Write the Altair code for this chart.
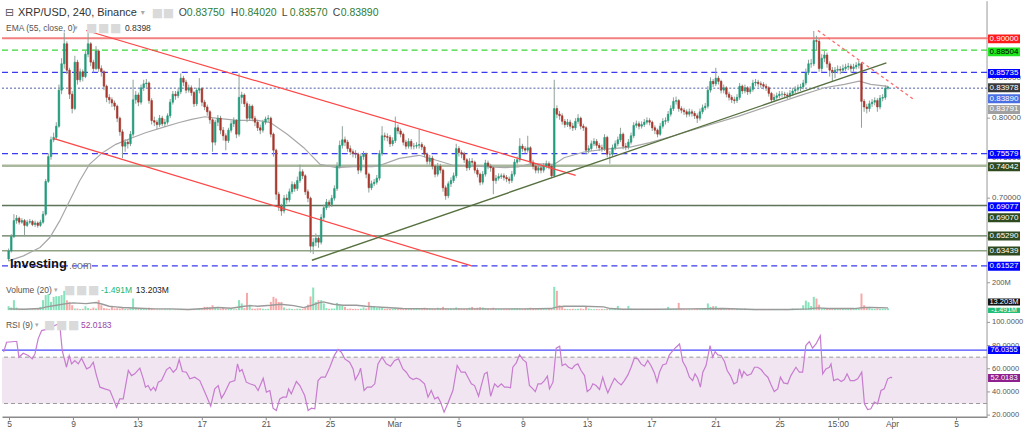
import altair as alt
import numpy as np
import pandas as pd

FONT = "Liberation Sans"
W = 986
H_PRICE, H_VOL, H_RSI = 277, 35, 104

# ---------------- XRP/USD 4h candles (prices in thousandths of USD) ----------------
first_open_k = 624
close_k = [
    634, 652, 672, 675, 670, 672, 666, 670, 671, 667,
    669, 666, 670, 680, 721, 752, 773, 776, 790, 835,
    868, 893, 860, 830, 812, 870, 848, 858, 852, 880,
    893, 870, 862, 884, 862, 858, 840, 826, 823, 819,
    815, 800, 783, 765, 770, 768, 780, 823, 829, 820,
    838, 843, 844, 822, 797, 795, 792, 800, 793, 795,
    803, 820, 830, 828, 833, 850, 845, 835, 838, 832,
    818, 835, 837, 820, 814, 808, 798, 770, 795, 800,
    785, 778, 772, 785, 793, 797, 780, 826, 829, 818,
    800, 815, 800, 795, 788, 785, 795, 799, 800, 780,
    760, 705, 690, 684, 700, 698, 708, 717, 712, 722,
    733, 728, 708, 700, 640, 645, 650, 645, 676, 688,
    695, 692, 700, 712, 740, 766, 773, 770, 762, 758,
    756, 755, 735, 752, 755, 730, 713, 718, 720, 725,
    756, 778, 777, 776, 768, 772, 788, 784, 780, 770,
    765, 771, 765, 765, 766, 767, 764, 755, 746, 750,
    740, 730, 740, 735, 713, 703, 718, 722, 728, 762,
    757, 755, 748, 738, 746, 745, 735, 730, 720, 730,
    744, 740, 738, 722, 725, 727, 728, 726, 724, 722,
    730, 745, 748, 765, 762, 760, 763, 745, 740, 735,
    738, 735, 740, 743, 740, 728, 812, 805, 803, 796,
    792, 795, 790, 788, 796, 800, 790, 788, 760, 762,
    768, 771, 766, 763, 762, 776, 755, 755, 763, 768,
    773, 780, 765, 764, 770, 778, 791, 793, 790, 792,
    795, 797, 795, 788, 785, 780, 790, 796, 797, 805,
    812, 821, 822, 812, 810, 808, 805, 808, 806, 803,
    800, 808, 813, 815, 835, 846, 843, 850, 846, 835,
    838, 830, 826, 823, 822, 826, 840, 834, 838, 833,
    836, 844, 845, 843, 842, 840, 838, 831, 823, 826,
    828, 830, 830, 829, 828, 831, 834, 836, 838, 839,
    844, 857, 868, 868, 897, 896, 862, 875, 879, 868,
    860, 858, 860, 861, 860, 862, 864, 865, 862, 864,
    866, 868, 821, 814, 812, 818, 820, 822, 814, 825,
    826, 837.5, 838.9,
]
high_k = [
    637, 655, 680, 679, 677, 675, 674, 673, 674, 673,
    672, 671, 673, 684, 724, 756, 777, 782, 795, 842,
    875, 907, 896, 863, 834, 878, 873, 862, 861, 884,
    909, 895, 873, 890, 886, 866, 860, 842, 830, 826,
    822, 817, 802, 786, 774, 774, 784, 848, 834, 832,
    842, 848, 849, 846, 825, 802, 798, 804, 803, 799,
    806, 824, 834, 834, 837, 856, 853, 848, 842, 841,
    834, 838, 850, 839, 823, 817, 810, 800, 798, 804,
    803, 789, 781, 788, 797, 801, 799, 856, 833, 831,
    821, 818, 817, 803, 798, 792, 798, 802, 804, 802,
    782, 762, 708, 693, 704, 705, 712, 721, 720, 727,
    742, 736, 730, 711, 702, 650, 656, 653, 680, 692,
    699, 698, 704, 716, 745, 772, 790, 777, 773, 766,
    761, 760, 757, 756, 759, 757, 732, 722, 724, 729,
    760, 790, 782, 781, 779, 776, 802, 792, 787, 782,
    773, 775, 774, 769, 770, 786, 770, 766, 757, 754,
    753, 742, 744, 743, 737, 716, 721, 726, 732, 768,
    765, 760, 758, 750, 750, 750, 747, 738, 732, 734,
    748, 747, 743, 740, 729, 731, 731, 731, 729, 727,
    734, 749, 752, 775, 768, 765, 778, 765, 748, 743,
    742, 741, 744, 747, 746, 742, 848, 816, 809, 806,
    799, 799, 798, 794, 800, 805, 802, 793, 790, 766,
    772, 775, 774, 769, 767, 780, 778, 759, 767, 772,
    777, 788, 782, 769, 774, 782, 795, 797, 796, 796,
    799, 801, 800, 797, 791, 787, 794, 800, 801, 809,
    816, 826, 827, 824, 815, 813, 811, 812, 811, 809,
    806, 812, 817, 819, 840, 851, 849, 863, 853, 848,
    842, 840, 833, 829, 827, 830, 844, 842, 842, 840,
    840, 848, 849, 848, 846, 845, 843, 840, 833, 830,
    832, 834, 834, 833, 832, 835, 838, 840, 842, 843,
    848, 862, 873, 874, 909, 903, 899, 880, 884, 882,
    871, 864, 864, 866, 865, 867, 868, 869, 868, 868,
    870, 872, 870, 824, 818, 822, 824, 826, 825, 829,
    830, 841, 840.2,
]
low_k = [
    621, 632, 650, 668, 667, 668, 652, 664, 668, 665,
    664, 663, 664, 668, 678, 719, 748, 770, 773, 788,
    830, 862, 855, 824, 806, 810, 842, 845, 846, 850,
    876, 865, 857, 860, 858, 852, 835, 820, 818, 814,
    810, 795, 778, 750, 758, 762, 765, 777, 818, 815,
    817, 834, 838, 818, 792, 790, 786, 789, 790, 789,
    792, 800, 817, 823, 825, 830, 840, 831, 832, 828,
    814, 815, 831, 815, 810, 803, 793, 758, 766, 790,
    780, 772, 760, 769, 782, 789, 775, 777, 818, 814,
    795, 797, 796, 790, 784, 780, 782, 792, 795, 776,
    752, 698, 684, 678, 681, 693, 695, 705, 708, 709,
    719, 724, 704, 695, 632, 630, 640, 638, 642, 672,
    685, 688, 689, 697, 709, 737, 762, 765, 758, 754,
    751, 750, 730, 732, 748, 725, 707, 710, 715, 717,
    722, 753, 772, 771, 764, 765, 769, 780, 776, 766,
    761, 762, 761, 761, 762, 762, 760, 751, 742, 742,
    736, 726, 727, 731, 708, 698, 700, 714, 719, 725,
    752, 750, 744, 734, 735, 740, 731, 726, 716, 717,
    727, 736, 733, 705, 718, 722, 724, 722, 720, 718,
    719, 727, 742, 745, 758, 756, 757, 741, 736, 731,
    731, 731, 732, 737, 736, 725, 726, 800, 798, 792,
    788, 789, 786, 784, 785, 793, 786, 784, 755, 756,
    759, 765, 762, 759, 758, 759, 751, 743, 752, 760,
    765, 770, 761, 760, 761, 767, 775, 788, 786, 787,
    789, 792, 791, 784, 780, 776, 778, 787, 792, 794,
    802, 809, 817, 808, 806, 804, 801, 802, 802, 799,
    794, 797, 805, 810, 812, 832, 839, 840, 842, 831,
    831, 826, 822, 819, 818, 819, 823, 830, 831, 829,
    830, 833, 840, 839, 838, 836, 834, 827, 819, 820,
    823, 825, 826, 825, 824, 825, 828, 831, 833, 834,
    836, 841, 854, 863, 865, 885, 858, 858, 870, 863,
    852, 846, 850, 856, 855, 857, 859, 860, 857, 858,
    861, 862, 788, 808, 806, 808, 814, 816, 808, 811,
    821, 823, 835.7,
]
# volume per candle, millions
volume_m = [
    29, 19, 73, 19, 10, 10, 8, 6, 5, 7,
    6, 9, 24, 73, 110, 117, 60, 97, 102, 102,
    110, 141, 73, 60, 36, 12, 12, 8, 10, 29,
    15, 10, 19, 12, 73, 36, 15, 12, 10, 24,
    12, 14, 12, 20, 10, 8, 14, 85, 19, 12,
    10, 9, 8, 18, 10, 6, 5, 6, 5, 7,
    6, 8, 5, 6, 7, 9, 7, 6, 5, 6,
    6, 7, 8, 6, 24, 24, 20, 36, 15, 12,
    10, 18, 10, 8, 8, 7, 8, 73, 49, 15,
    126, 40, 12, 10, 14, 14, 10, 8, 10, 60,
    97, 85, 60, 60, 20, 10, 12, 9, 8, 11,
    10, 10, 18, 40, 100, 165, 60, 73, 73, 49,
    15, 10, 12, 12, 53, 36, 36, 24, 10, 12,
    9, 10, 8, 11, 20, 12, 60, 25, 29, 20,
    24, 20, 10, 10, 9, 10, 15, 8, 8, 8,
    12, 14, 12, 8, 8, 7, 8, 18, 12, 10,
    10, 10, 18, 15, 24, 12, 10, 10, 10, 20,
    12, 10, 10, 10, 18, 24, 12, 18, 22, 20,
    15, 12, 10, 18, 10, 9, 8, 8, 9, 10,
    12, 14, 15, 13, 9, 12, 15, 18, 12, 10,
    8, 8, 8, 7, 8, 10, 170, 141, 36, 30,
    10, 9, 8, 10, 9, 10, 12, 9, 24, 12,
    8, 7, 8, 7, 9, 8, 10, 8, 7, 9,
    31, 8, 8, 8, 31, 10, 9, 7, 8, 6,
    7, 6, 8, 7, 9, 8, 7, 6, 8, 24,
    10, 10, 10, 53, 12, 8, 7, 8, 6, 7,
    8, 7, 9, 8, 49, 24, 29, 29, 12, 9,
    8, 7, 8, 7, 6, 8, 9, 7, 12, 8,
    6, 5, 6, 7, 5, 6, 5, 6, 7, 6,
    5, 6, 5, 6, 7, 6, 12, 10, 10, 10,
    36, 70, 58, 30, 97, 85, 40, 12, 10, 9,
    10, 12, 9, 8, 8, 9, 8, 10, 9, 8,
    9, 10, 121, 36, 15, 24, 10, 9, 12, 9,
    10, 11, 13.2,
]
# volume MA(20) readings: (days since Feb 5 00:00, millions)
vol_ma_points = [
    (-0.33, 9.1), (0.60, 6.7), (1.64, 11.6), (2.05, 23.7), (2.68, 35.9), (3.30, 48.0),
    (3.71, 52.9), (4.54, 48.0), (5.17, 55.3), (5.58, 43.1), (5.99, 28.6), (6.41, 23.7),
    (6.83, 18.9), (7.86, 14.0), (8.90, 9.1), (9.94, 9.1), (10.97, 4.3), (12.01, 11.6),
    (12.84, 18.9), (13.67, 14.0), (14.50, 28.6), (14.92, 33.4), (15.33, 28.6), (16.16, 35.9),
    (16.78, 43.1), (17.61, 33.4), (18.24, 18.9), (18.75, 35.9), (19.17, 52.9), (19.48, 60.2),
    (20.10, 43.1), (20.72, 35.9), (21.55, 35.9), (22.17, 28.6), (22.80, 23.7), (23.42, 18.9),
    (24.46, 11.6), (26.53, 9.1), (28.61, 9.1), (30.68, 9.1), (32.13, 9.1), (33.79, 11.6),
    (34.21, 23.7), (34.62, 28.6), (35.87, 28.6), (37.11, 23.7), (37.53, 11.6), (38.36, 6.7),
    (40.44, 6.7), (42.51, 9.1), (44.58, 11.6), (46.66, 4.3), (48.73, 4.3), (49.97, 9.1),
    (50.60, 16.4), (51.22, 11.6), (52.88, 11.6), (53.50, 18.9), (53.92, 18.9), (55.0, 16.4),
]
# EMA(55) readings: (days since Feb 5 00:00, price in thousandths)
ema_points = [
    (-0.33, 621.7), (0.60, 627.9), (1.64, 638.3), (2.26, 650.8), (2.88, 671.6), (3.50, 696.6),
    (4.13, 721.5), (4.75, 742.3), (5.58, 756.9), (6.41, 767.3), (7.45, 775.6), (8.28, 781.8),
    (9.32, 788.1), (10.35, 794.3), (11.18, 798.5), (12.01, 801.8), (12.84, 799.7), (14.08, 797.2),
    (15.33, 797.2), (16.16, 794.3), (17.20, 779.8), (18.24, 763.1), (19.27, 742.3), (20.31, 738.2),
    (21.35, 739.4), (22.59, 739.4), (23.21, 742.3), (24.25, 749.8), (25.50, 753.6), (26.74, 746.5),
    (27.57, 741.5), (29.64, 739.4), (30.89, 738.2), (31.72, 739.0), (32.55, 743.2), (34.00, 742.3),
    (34.62, 750.6), (35.87, 757.7), (37.11, 761.0), (38.77, 763.9), (40.02, 769.4), (41.47, 777.7),
    (43.54, 790.2), (45.62, 802.6), (47.69, 816.4), (49.35, 827.6), (51.01, 838.0), (52.26, 842.2),
    (53.19, 846.3), (53.92, 842.2), (55.0, 839.8),
]
# RSI(9) readings: (candle index, value)
rsi_points = [
    (0, 74.3), (1.1, 82.9), (4.2, 83.5), (4.9, 83.5), (5.7, 70.0), (7.3, 73.4), (9.2, 71.4),
    (10.7, 68.5), (11.7, 72.8), (12.9, 85.8), (14.2, 92.9), (16.7, 94.4), (18.5, 96.7),
    (20.4, 98.7), (21.0, 97.3), (21.9, 75.7), (23.5, 61.3), (24.5, 71.4), (25.4, 64.2),
    (26.6, 67.1), (27.9, 64.2), (29.1, 69.1), (31.0, 59.9), (32.2, 61.3), (33.5, 65.6),
    (34.7, 54.1), (36.0, 44.1), (37.8, 42.6), (39.7, 41.2), (41.0, 34.0), (42.2, 26.8),
    (43.4, 34.0), (44.7, 34.0), (46.6, 58.5), (47.8, 54.1), (49.0, 55.6), (50.9, 60.5),
    (52.2, 51.3), (53.0, 44.1), (54.0, 45.5), (55.0, 41.2), (56.0, 44.1), (56.8, 41.2),
    (57.8, 48.4), (59.0, 49.8), (60.9, 59.3), (62.1, 61.3), (63.4, 57.0), (64.6, 59.9),
    (65.6, 67.9), (66.8, 57.6), (68.3, 57.0), (69.6, 51.3), (71.4, 52.7), (73.3, 49.8),
    (75.2, 39.8), (77.4, 27.7), (78.9, 42.6), (80.2, 45.5), (81.4, 34.6), (82.4, 38.3),
    (84.5, 48.4), (86.4, 49.8), (87.4, 64.2), (88.2, 57.6), (89.1, 59.3), (90.7, 48.4),
    (92.0, 47.0), (93.9, 45.5), (95.1, 41.2), (97.0, 51.8), (98.2, 39.8), (99.5, 41.2),
    (100.7, 26.0), (101.9, 24.0), (103.2, 34.0), (104.4, 35.5), (105.7, 35.5), (106.5, 42.6),
    (107.5, 38.3), (109.4, 49.0), (110.7, 45.5), (112.5, 36.9), (113.8, 24.0), (115.0, 26.0),
    (116.3, 25.4), (117.5, 49.8), (118.7, 52.7), (120.2, 52.7), (121.9, 61.3), (123.7, 72.0),
    (125.0, 76.6), (126.2, 74.3), (127.5, 68.5), (129.3, 65.6), (130.6, 59.9), (131.4, 50.4),
    (132.7, 55.6), (133.4, 60.5), (134.7, 41.2), (135.9, 44.1), (137.4, 44.1), (138.7, 47.0),
    (139.9, 64.2), (141.4, 70.0), (143.0, 64.2), (144.6, 62.2), (146.1, 67.1), (147.6, 68.5),
    (149.2, 59.9), (150.5, 57.0), (151.7, 52.7), (153.0, 50.7), (154.2, 51.8), (155.5, 50.7),
    (157.3, 47.0), (158.6, 35.5), (159.8, 41.2), (161.1, 34.0), (162.3, 35.5), (163.3, 31.2),
    (164.6, 22.5), (165.8, 28.9), (167.9, 41.2), (169.5, 62.8), (171.0, 57.0), (172.5, 57.0),
    (173.5, 52.7), (174.8, 47.0), (176.0, 45.5), (177.5, 36.3), (178.5, 45.5), (179.7, 55.6),
    (180.7, 57.0), (182.0, 36.3), (183.5, 47.0), (184.7, 44.1), (186.0, 47.0), (187.2, 44.1),
    (188.4, 44.1), (189.4, 43.5), (190.3, 61.3), (191.6, 65.1), (192.8, 72.0), (194.1, 67.9),
    (195.3, 65.6), (196.5, 45.5), (197.8, 42.6), (198.7, 40.3), (199.7, 47.0), (200.9, 47.0),
    (202.1, 49.8), (203.2, 53.6), (204.0, 42.6), (205.3, 48.4), (206.5, 77.7), (207.8, 79.4),
    (208.7, 62.8), (209.9, 64.2), (211.1, 61.3), (212.4, 59.9), (213.4, 62.8), (214.6, 64.2),
    (215.8, 58.5), (217.1, 54.1), (218.1, 40.3), (219.3, 42.6), (220.2, 47.0), (221.4, 45.5),
    (222.7, 42.1), (223.9, 52.7), (224.8, 45.5), (225.8, 39.2), (227.0, 45.5), (228.3, 51.8),
    (229.5, 48.4), (230.8, 46.1), (232.0, 49.8), (233.3, 54.7), (234.5, 61.3), (235.7, 69.1),
    (237.0, 68.5), (238.2, 64.2), (239.5, 62.2), (240.7, 67.1), (241.9, 62.8), (243.2, 56.4),
    (244.2, 48.4), (245.1, 57.0), (246.3, 63.3), (247.6, 64.2), (248.8, 72.0), (250.1, 75.7),
    (251.3, 78.6), (252.6, 81.4), (253.8, 66.2), (255.0, 61.3), (256.3, 52.7), (257.5, 49.8),
    (258.4, 55.6), (259.4, 51.8), (260.4, 44.1), (261.3, 57.0), (262.5, 62.8), (264.0, 80.0),
    (265.0, 70.0), (265.9, 74.8), (266.9, 72.0), (268.1, 71.4), (269.4, 66.2), (270.4, 58.5),
    (271.6, 54.1), (272.9, 47.0), (274.1, 48.4), (275.0, 59.9), (275.9, 52.7), (276.6, 57.6),
    (277.9, 54.1), (279.4, 55.6), (280.6, 61.3), (281.8, 61.3), (283.1, 59.3), (284.3, 55.6),
    (285.6, 52.7), (286.8, 46.1), (288.0, 40.3), (289.3, 42.6), (290.3, 52.7), (291.5, 47.8),
    (293.0, 47.0), (294.2, 54.1), (296.1, 61.3), (297.4, 57.0), (298.6, 57.0), (299.8, 80.0),
    (301.1, 83.5), (302.3, 77.7), (303.6, 81.4), (305.2, 88.6), (306.1, 55.6), (307.3, 59.9),
    (308.6, 61.3), (309.2, 64.2), (310.2, 49.8), (311.7, 51.3), (313.0, 49.0), (314.2, 50.7),
    (315.2, 55.6), (316.4, 49.8), (317.9, 49.8), (319.2, 51.3), (320.7, 57.0), (321.7, 29.7),
    (322.9, 24.8), (324.1, 25.4), (325.4, 31.2), (326.6, 29.7), (327.9, 41.2), (329.1, 42.6),
    (330.4, 51.3), (331.6, 52.7), (332.0, 52.0),
]

# horizontal levels drawn on the price chart
level_price = [0.90000, 0.88504, 0.85735, 0.83750, 0.75579, 0.74042, 0.69077, 0.69070, 0.65290, 0.63439, 0.61527]
level_color = ["#f37f7f", "#38d838", "#3a3aee", "#4a5aa8", "#3a3aee", "#a9b89d", "#4f6bf0", "#5f7458", "#5f7458", "#8fa283", "#3a3aee"]
level_dash = [None, [6, 4], [6, 4], [2, 2], [6, 4], None, [6, 4], None, None, None, [6, 4]]
level_width = [2, 1.2, 1.2, 1, 1.2, 2.5, 1, 1.5, 1.3, 1.5, 1.2]

# trend lines: (day, price) -> (day, price)
trend_t1 = [4.54, 2.47, 18.75, 50.59]
trend_p1 = [0.9096, 0.7748, 0.6224, 0.9096]
trend_t2 = [35.35, 28.81, 54.90, 56.71]
trend_p2 = [0.7285, 0.6153, 0.8692, 0.8222]
trend_color = ["#ff4545", "#ff4545", "#56703f", "#ff6a6a"]
trend_dash = [None, None, None, [3, 3]]
trend_width = [1.2, 1.2, 1.4, 1.4]

# value tags on the price scale
tag_text = ["0.90000", "0.88504", "0.85735", "0.83978", "0.83890", "0.83791", "0.75579",
            "0.74042", "0.69077", "0.69070", "0.65290", "0.63439", "0.61527"]
tag_pos = [0.89913, 0.88289, 0.85592, 0.83794, 0.82420, 0.81096, 0.75477,
           0.73929, 0.68934, 0.67560, 0.65275, 0.63401, 0.61491]
tag_fill = ["#ff1a1a", "#1ee61e", "#0000ff", "#3a3a3a", "#4a6fe3", "#a0a0a0", "#0000ff",
            "#2e4a1e", "#0000ff", "#2e4a1e", "#2e4a1e", "#2e4a1e", "#0000ff"]
tag_ink = ["white", "black", "white", "white", "white", "white", "white",
           "white", "white", "white", "white", "white", "white"]

# right-scale ticks (labels only where the reference leaves them visible)
price_ticks = [0.65, 0.70, 0.75, 0.80, 0.85, 0.90]
price_label_ticks = [0.70, 0.75, 0.80, 0.85]
price_tick_labels = ["0.70000", "0.75000", "0.80000", "0.85000"]
vol_ticks = [200]
vol_tick_labels = ["200M"]
rsi_ticks = [20, 40, 60, 80, 100]
rsi_tick_labels = ["20.0000", "40.0000", "60.0000", "80.0000", "100.0000"]
tick_days = [0, 4, 8, 12, 16, 20, 24, 28, 32, 36, 40, 44, 48, 51.625, 55, 59]
tick_labels = ["5", "9", "13", "17", "21", "25", "Mar", "5", "9", "13", "17", "21", "25", "15:00", "Apr", "5"]

# ---------------- frames ----------------
n = len(close_k)
assert len(high_k) == n and len(low_k) == n and len(volume_m) == n, (n, len(high_k), len(low_k), len(volume_m))
opens = [first_open_k] + close_k[:-1]
candles = pd.DataFrame({
    "t": [(i - 2) / 6 for i in range(n)],
    "open": [v / 1000 for v in opens],
    "close": [v / 1000 for v in close_k],
    "high": [v / 1000 for v in high_k],
    "low": [v / 1000 for v in low_k],
    "vol": volume_m,
})
candles["dir"] = np.where(candles["close"] >= candles["open"], "up", "down")
candles["base"] = 0.0

ema_df = pd.DataFrame(ema_points, columns=["t", "k"])
ema_df["p"] = ema_df["k"] / 1000
vma_df = pd.DataFrame(vol_ma_points, columns=["t", "v"])
rsi_df = pd.DataFrame(rsi_points, columns=["i", "rsi"])
rsi_df["t"] = (rsi_df["i"] - 2) / 6

ONE = pd.DataFrame({"k": [0]})

xs = alt.Scale(domain=[-0.4356, 60.92], nice=False, zero=False)
ys_price = alt.Scale(domain=[0.6003, 0.9462], nice=False, zero=False)
ys_vol = alt.Scale(domain=[-20, 235], nice=False, zero=False)
ys_rsi = alt.Scale(domain=[18.53, 108.19], nice=False, zero=False)

BOX_X1, BOX_X2, BOX_XC = 987, 1019, 1003


def note(txt, x, y, color="#333", size=9, weight="normal", font=FONT):
    return alt.Chart(ONE).mark_text(
        text=txt, align="left", baseline="middle", color=color,
        fontSize=size, fontWeight=weight, font=font,
    ).encode(x=alt.value(x), y=alt.value(y))


def tags(texts, pos, fills, inks, half, yscale, size=8):
    d = pd.DataFrame({"label": texts, "pos": pos, "fill": fills, "ink": inks})
    d["lo"] = d["pos"] - half
    d["hi"] = d["pos"] + half
    box = alt.Chart(d).mark_rect().encode(
        x=alt.value(BOX_X1), x2=alt.value(BOX_X2),
        y=alt.Y("lo:Q", scale=yscale, axis=None), y2="hi:Q",
        color=alt.Color("fill:N", scale=None),
    )
    txt = alt.Chart(d).mark_text(font=FONT, fontSize=size, align="center", baseline="middle").encode(
        x=alt.value(BOX_XC), y=alt.Y("pos:Q", scale=yscale, axis=None),
        text="label:N", color=alt.Color("ink:N", scale=None),
    )
    return [box, txt]


def right_axis(tick_values, label_values, labels, yscale, size):
    dt = pd.DataFrame({"v": tick_values})
    dl = pd.DataFrame({"v": label_values, "lab": labels})
    dom = alt.Chart(ONE).mark_rule(color="#9a9a9a", strokeWidth=1).encode(x=alt.value(W))
    ticks = alt.Chart(dt).mark_rule(color="#9a9a9a", strokeWidth=1).encode(
        x=alt.value(W), x2=alt.value(W + 3), y=alt.Y("v:Q", scale=yscale, axis=None))
    txt = alt.Chart(dl).mark_text(align="left", baseline="middle", font=FONT, fontSize=size, color="#555").encode(
        x=alt.value(W + 5), y=alt.Y("v:Q", scale=yscale, axis=None), text="lab:N")
    return [dom, ticks, txt]


def icons(xs_, y):
    return [note("\u25A0", x, y, color="#dadada", size=12, font="DejaVu Sans") for x in xs_]


X_NONE = alt.X("t:Q", scale=xs, axis=None)

# ---------------- price panel ----------------
price_layers = right_axis(price_ticks, price_label_ticks, price_tick_labels, ys_price, 8)
for p, c, d, w in zip(level_price, level_color, level_dash, level_width):
    mk = dict(color=c, strokeWidth=w)
    if d:
        mk["strokeDash"] = d
    price_layers.append(
        alt.Chart(pd.DataFrame({"p": [p]})).mark_rule(**mk).encode(
            y=alt.Y("p:Q", scale=ys_price, axis=None))
    )

price_layers.append(
    alt.Chart(ema_df).mark_line(color="#a8a8a8", strokeWidth=1.2).encode(
        x=X_NONE, y=alt.Y("p:Q", scale=ys_price, axis=None))
)

candle_colors = alt.Scale(domain=["up", "down"], range=["#229c7c", "#a8362c"])
price_layers.append(
    alt.Chart(candles).mark_rule(color="#8fa198", strokeWidth=1).encode(
        x=X_NONE, y=alt.Y("low:Q", scale=ys_price, axis=None), y2="high:Q")
)
price_layers.append(
    alt.Chart(candles).mark_bar(width=1.6, strokeWidth=0.6).encode(
        x=alt.X("t:Q", scale=xs, axis=alt.Axis(labels=False, ticks=False, title=None,
                                               domainColor="#8a8a8a", domainWidth=2, grid=False)),
        y=alt.Y("open:Q", scale=ys_price, axis=None),
        y2="close:Q",
        color=alt.Color("dir:N", scale=candle_colors, legend=None),
        stroke=alt.Stroke("dir:N", scale=candle_colors, legend=None),
    )
)

for t1, p1, t2, p2, c, d, w in zip(trend_t1, trend_p1, trend_t2, trend_p2, trend_color, trend_dash, trend_width):
    mk = dict(color=c, strokeWidth=w)
    if d:
        mk["strokeDash"] = d
    price_layers.append(
        alt.Chart(pd.DataFrame({"t1": [t1], "p1": [p1], "t2": [t2], "p2": [p2]})).mark_rule(**mk).encode(
            x=alt.X("t1:Q", scale=xs, axis=None), x2="t2:Q",
            y=alt.Y("p1:Q", scale=ys_price, axis=None), y2="p2:Q")
    )

price_layers += tags(tag_text, tag_pos, tag_fill, tag_ink, 0.0056, ys_price)

price_layers += [
    note("\u229F", 3, 12, color="#555", size=11, font="DejaVu Sans"),
    note("XRP/USD, 240, Binance", 16, 12, color="#333", size=11),
    note("\u25BE", 139, 12, color="#aaa", size=8, font="DejaVu Sans"),
]
price_layers += icons([150, 161], 12)
for letter, x, val in [("O", 177, "0.83750"), ("H", 229, "0.84020"), ("L", 280, "0.83570"), ("C", 331, "0.83890")]:
    price_layers.append(note(letter, x, 12, color="#444", size=10.5))
    price_layers.append(note(val, x + 8, 12, color="#2e7d32", size=10.5))
price_layers += [
    note("EMA (55, close, 0)", 4, 27, color="#555", size=8.5),
    note("\u25BE", 72, 27, color="#aaa", size=7, font="DejaVu Sans"),
]
price_layers += icons([84, 96, 108], 27)
price_layers += [
    note("0.8398", 123, 27, color="#333", size=8.5),
    note("Investing", 8, 263, color="#111", size=13, weight="bold"),
    note(".com", 67, 265, color="#777", size=10.5),
]

price = alt.layer(*price_layers).properties(width=W, height=H_PRICE)

# ---------------- volume panel ----------------
vol_colors = alt.Scale(domain=["up", "down"], range=["#86e3bb", "#f7a9a9"])
vol_layers = right_axis(vol_ticks, vol_ticks, vol_tick_labels, ys_vol, 7.5)
vol_layers += [
    alt.Chart(candles).mark_bar(width=2).encode(
        x=alt.X("t:Q", scale=xs, axis=alt.Axis(labels=False, ticks=False, title=None,
                                               domainColor="#999", domainWidth=1.5, grid=False)),
        y=alt.Y("vol:Q", scale=ys_vol, axis=None),
        y2="base:Q",
        color=alt.Color("dir:N", scale=vol_colors, legend=None),
    ),
    alt.Chart(vma_df).mark_line(color="#9a9a9a", strokeWidth=1.4).encode(
        x=X_NONE, y=alt.Y("v:Q", scale=ys_vol, axis=None)),
]
vol_layers += tags(["13.203M"], [60.0], ["#111111"], ["white"], 25.5, ys_vol, size=7.5)
vol_layers += tags(["-1.491M"], [-1.5], ["#21c07a"], ["white"], 18.5, ys_vol, size=7)
vol_layers += [
    note("Volume (20)", 4, 12, color="#555", size=8.5),
    note("\u25BE", 52, 12, color="#aaa", size=7, font="DejaVu Sans"),
]
vol_layers += icons([62, 74, 86], 12)
vol_layers += [
    note("-1.491M", 99, 12, color="#22b573", size=8.5),
    note("13.203M", 134, 12, color="#222", size=8.5),
]
volume = alt.layer(*vol_layers).properties(width=W, height=H_VOL)

# ---------------- RSI panel ----------------
label_expr = " : ".join(
    f"abs(datum.value - {d}) < 0.01 ? '{l}'" for d, l in zip(tick_days, tick_labels)
) + " : ''"

rsi_layers = [
    alt.Chart(pd.DataFrame({"lo": [30], "hi": [70]})).mark_rect(color="#f1e5f1").encode(
        x=alt.value(0), x2=alt.value(W),
        y=alt.Y("lo:Q", scale=ys_rsi, axis=None), y2="hi:Q"),
]
rsi_layers += right_axis(rsi_ticks, rsi_ticks, rsi_tick_labels, ys_rsi, 7.5)
rsi_layers += [
    alt.Chart(pd.DataFrame({"v": [30, 70]})).mark_rule(color="#9a9a9a", strokeDash=[4, 3], strokeWidth=1).encode(
        y=alt.Y("v:Q", scale=ys_rsi, axis=None)),
    alt.Chart(pd.DataFrame({"v": [76.0355]})).mark_rule(color="#4747ff", strokeWidth=1.2).encode(
        y=alt.Y("v:Q", scale=ys_rsi, axis=None)),
    alt.Chart(rsi_df).mark_line(color="#c77ccf", strokeWidth=1.2).encode(
        x=alt.X("t:Q", scale=xs,
                axis=alt.Axis(values=tick_days, labelExpr=label_expr, title=None, tickSize=3,
                              labelPadding=0, labelFontSize=8.5, labelFont=FONT, labelColor="#555",
                              domainColor="#8a8a8a", domainWidth=1.5, tickColor="#888", grid=False,
                              labelFlush=False, labelOverlap=False)),
        y=alt.Y("rsi:Q", scale=ys_rsi, axis=None),
    ),
]
rsi_layers += tags(["76.0355", "52.0183"], [76.0355, 52.0183], ["#0000ff", "#8e1f8e"], ["white", "white"],
                   3.4, ys_rsi, size=7.5)
rsi_layers += [
    note("RSI (9)", 4, 12, color="#555", size=8.5),
    note("\u25BE", 33, 12, color="#aaa", size=7, font="DejaVu Sans"),
]
rsi_layers += icons([42, 54, 66], 12)
rsi_layers += [note("52.0183", 79, 12, color="#9c3fa8", size=8.5)]
rsi = alt.layer(*rsi_layers).properties(width=W, height=H_RSI)

chart = alt.vconcat(price, volume, rsi, spacing=0, bounds="flush").resolve_scale(
    color="independent", stroke="independent"
).properties(
    padding=0, background="white"
).configure_view(stroke=None)

chart.save("out.html", embed_options={"renderer": "svg", "actions": False})
